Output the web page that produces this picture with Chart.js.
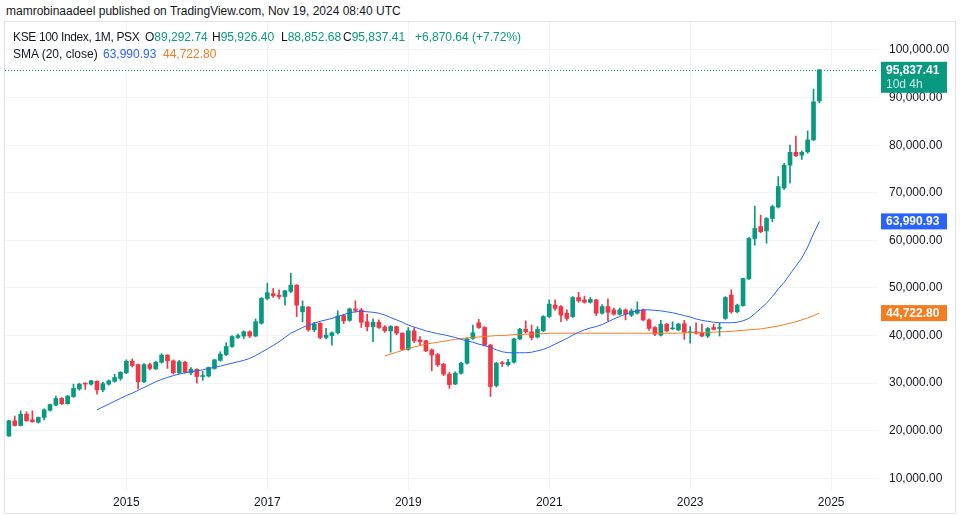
<!DOCTYPE html>
<html>
<head>
<meta charset="utf-8">
<script src="https://cdn.jsdelivr.net/npm/chart.js@4.4.1/dist/chart.umd.min.js"></script>
<style>
  body { margin: 0; width: 960px; height: 515px; background: #fff; position: relative; overflow: hidden;
         font-family: "Liberation Sans", Arial, sans-serif; color: #131722; }
  #byline { position: absolute; left: 6px; top: 3px; font-size: 12px; line-height: 16px; }
  #frame { position: absolute; left: 4px; top: 21px; width: 950px; height: 491px; border: 1px solid #e0e3eb; }
  #chart { position: absolute; left: 0; top: 0; }
  .lg { position: absolute; font-size: 12px; line-height: 16px; white-space: nowrap; }
  .up { color: #089981; }
</style>
</head>
<body>
<div id="byline">mamrobinaadeel published on TradingView.com, Nov 19, 2024 08:40 UTC</div>
<div id="frame"><canvas id="chart" width="950" height="491"></canvas></div>

<div class="lg" style="left:13px; top:29px; letter-spacing:-0.35px">KSE 100 Index, 1M, PSX</div>
<div class="lg" style="left:145px; top:29px">O<span class="up">89,292.74</span></div>
<div class="lg" style="left:212px; top:29px">H<span class="up">95,926.40</span></div>
<div class="lg" style="left:281px; top:29px">L<span class="up">88,852.68</span></div>
<div class="lg" style="left:343px; top:29px">C<span class="up">95,837.41</span></div>
<div class="lg up" style="left:415px; top:29px">+6,870.64 (+7.72%)</div>
<div class="lg" style="left:13px; top:46px">SMA (20, close)</div>
<div class="lg" style="left:103px; top:46px; color:#2962ff">63,990.93</div>
<div class="lg" style="left:163px; top:46px; color:#f57c1f">44,722.80</div>

<script>
// monthly candles, first one is May 2013
const firstYear = 2013;
const firstMonth = 5;

const opens = [
  18900,22100,21100,23500,22300,21800,22800,24300,25400,26800,
  25700,27200,28800,30000,29800,30400,28600,29800,30400,31000,
  32200,34600,33900,30300,33900,33000,34400,35900,34700,32200,
  34400,32200,32900,31400,31500,33100,34800,36000,37700,39600,
  39900,40800,39900,42600,47800,48800,48500,48200,49300,50600,
  45000,46000,41200,42600,39600,40000,40600,44200,43200,45600,
  45400,42900,41900,42800,41800,41000,41900,40500,37100,41000,
  39100,38900,37000,36000,34000,31900,29800,32100,34200,39400,
  42700,41700,38000,29500,34300,33900,34400,39300,41300,40800,
  39700,41000,44000,46400,46100,44700,44000,48000,47500,47000,
  47500,44700,46100,45400,44500,45400,44300,44700,45400,43300,
  41700,40100,42400,41400,41200,42500,40600,40800,40600,39900,
  41700,41500,43600,48500,45000,46300,51900,60400,62900,62000,
  64600,67000,71000,75800,78500,77900,78600,81100,89292.74
];
const highs = [
  22200,23100,24200,24000,24200,22900,24600,25600,27300,27000,
  27400,29800,30000,30100,30600,30500,30200,30700,31900,32400,
  34900,35100,34000,34100,34200,34600,36200,36000,34900,34800,
  34600,33300,33000,32500,33400,35000,36600,38500,40000,40300,
  41000,41000,43500,48000,51000,49900,49600,49500,53100,50700,
  47300,46100,42800,42700,41500,40800,45200,44500,45800,47300,
  45700,44500,43500,43300,42100,42100,42000,40600,41700,41700,
  39800,39000,37200,36300,34200,32300,32400,34400,39500,42200,
  43400,41900,38200,34400,34600,35000,39500,41500,43100,42200,
  41900,44200,47500,47500,46300,45400,48200,49100,48300,48000,
  47600,46500,47700,45800,45800,45600,45600,47100,45600,43500,
  41900,43200,42600,42900,42600,43200,41900,42700,42400,41700,
  42400,42600,48200,49600,46600,52100,60600,67200,65300,64800,
  67400,73400,76200,80000,81900,78800,83000,91800,95926.40
];
const lows = [
  18800,21000,21000,22000,21800,21600,22300,24100,25300,25500,
  25600,27000,28500,28700,29600,27700,28200,29600,30200,30600,
  32000,33400,28800,30100,32800,32900,34200,33100,31900,32000,
  32100,31800,30000,30600,31300,32900,34600,35800,37500,39400,
  39400,39600,39800,42400,47500,48000,47700,46400,49000,44000,
  42900,40900,40800,39300,39300,38000,40300,42500,43000,44900,
  41700,41000,38700,41500,40700,36500,40200,36900,36900,38500,
  38000,36600,32600,33500,31600,28900,29700,31900,34000,39200,
  41500,37800,27200,29200,33500,33600,34200,39100,40500,39100,
  39500,40800,43800,45300,42900,43200,43800,47000,46800,46800,
  44200,44500,43100,44300,44300,43300,44000,44500,43100,41100,
  40000,39900,40800,41300,41000,39200,38400,40300,39700,39600,
  41200,39900,43400,44700,44800,46200,51800,59000,61600,59400,
  63900,66800,70700,72000,77600,77000,78300,81000,88852.68
];
const closes = [
  22100,21100,23500,22100,21900,22800,24400,25500,26800,25700,
  27300,28900,29800,29800,30500,28600,29900,30500,31200,32300,
  34600,33700,30300,33900,33100,34400,35900,34700,32200,34500,
  32300,32900,31400,31600,33300,34900,36100,37700,39800,40000,
  40800,39900,42900,47800,49000,48400,48200,49400,50600,46400,
  46100,41200,42400,39600,40100,40600,44100,43100,45600,45300,
  42800,41900,42800,41700,41000,41900,40500,37100,41000,38900,
  38700,36800,35900,33900,31900,29700,32100,34200,39300,40600,
  41700,38000,29300,34200,34100,34400,39300,41300,40800,39600,
  41300,44000,46600,45700,44300,43600,48000,47300,47000,47600,
  44700,46100,44900,44500,45400,44500,45200,45400,43300,41500,
  40300,42400,41000,41600,42400,40700,40800,40500,39900,41500,
  41300,41600,48000,45000,46400,52000,60400,62500,61800,64600,
  67100,71300,75800,78500,77800,78500,81100,89100,95837.41
];

// SMA (20, close), starts Aug 2014
const smaStart = 15;
const sma20 = [
  24400,25000,25600,26200,26800,27400,27900,28500,29100,29700,
  30300,30800,31200,31600,31900,32200,32400,32600,32800,33100,
  33300,33600,33900,34200,34500,34800,35200,35800,36500,37200,
  37900,38700,39600,40500,41100,41700,42200,42600,43000,43300,
  43600,44000,44400,44800,45000,45100,45000,44900,44700,44300,
  43800,43300,42800,42200,41800,41400,41000,40700,40400,40200,
  39900,39600,39200,38900,38600,38200,37900,37500,37000,36600,
  36400,36400,36400,36400,36500,36800,37100,37600,38200,38800,
  39400,40100,40700,41200,41600,41900,42300,42900,43500,44000,
  44500,44900,45200,45400,45400,45300,45200,45000,44800,44500,
  44200,43900,43500,43200,43000,42800,42700,42700,42700,42800,
  43100,43600,44600,45700,46800,48200,49800,51200,52900,54600,
  56300,58600,61400,63990.93
];

// smoothing line (orange), starts Sep 2018
const smoothStart = 64;
const smoothing = [
  35700,36100,36500,36900,37300,37600,37900,38200,38400,38600,
  38800,39000,39200,39400,39500,39600,39700,39800,39900,40000,
  40000,40100,40200,40200,40300,40300,40400,40400,40500,40500,
  40500,40500,40500,40500,40500,40500,40500,40500,40500,40500,
  40500,40500,40500,40500,40500,40500,40500,40500,40500,40500,
  40500,40600,40600,40600,40600,40700,40700,40800,40800,40900,
  41000,41100,41200,41300,41400,41600,41800,42000,42300,42600,
  42900,43300,43700,44200,44722.80
];

const yearTicks = [2015, 2017, 2019, 2021, 2023, 2025];
const priceTicks = [10000, 20000, 30000, 40000, 50000, 60000, 70000, 80000, 90000, 100000];
const countdown = '10d 4h';

const green = '#089981';
const red = '#f23645';
const blue = '#2962ff';
const orange = '#f57c1f';
const gridColor = '#f0f3fa';

const monthIndex = (year) => (year - firstYear) * 12 - (firstMonth - 1);
const fmt = (v) => v.toLocaleString('en-US', { minimumFractionDigits: 2, maximumFractionDigits: 2 });
const candleColors = closes.map((c, i) => c >= opens[i] ? green : red);

// dotted last price line + the coloured price tags on the right scale
const priceTags = {
  id: 'priceTags',
  beforeDatasetsDraw(chart) {
    const { ctx, chartArea, scales: { y } } = chart;
    const py = Math.round(y.getPixelForValue(closes[closes.length - 1])) + 0.5;
    ctx.save();
    ctx.strokeStyle = green;
    ctx.lineWidth = 1;
    ctx.setLineDash([1, 2]);
    ctx.beginPath();
    ctx.moveTo(chartArea.left, py);
    ctx.lineTo(chartArea.right, py);
    ctx.stroke();
    ctx.restore();
  },
  afterDraw(chart) {
    const { ctx, chartArea, scales: { y } } = chart;
    const x0 = chartArea.right + 3;
    const w = 66;
    ctx.save();
    ctx.font = 'bold 12px "Liberation Sans", Arial, sans-serif';
    ctx.textBaseline = 'middle';
    ctx.textAlign = 'left';

    const tag = (value, color) => {
      const py = y.getPixelForValue(value);
      ctx.fillStyle = color;
      ctx.fillRect(x0, py - 8, w, 16);
      ctx.fillStyle = '#fff';
      ctx.fillText(fmt(value), x0 + 5, py + 0.5);
    };
    tag(sma20[sma20.length - 1], blue);
    tag(smoothing[smoothing.length - 1], orange);

    const last = closes[closes.length - 1];
    const py = y.getPixelForValue(last);
    ctx.fillStyle = green;
    ctx.fillRect(x0, py - 8, w, 31);
    ctx.fillStyle = '#fff';
    ctx.fillText(fmt(last), x0 + 5, py + 0.5);
    ctx.font = '12px "Liberation Sans", Arial, sans-serif';
    ctx.fillStyle = 'rgba(255,255,255,0.8)';
    ctx.fillText(countdown, x0 + 5, py + 15);
    ctx.restore();
  }
};

new Chart(document.getElementById('chart'), {
  type: 'bar',
  data: {
    datasets: [
      {
        type: 'line',
        label: 'SMA',
        data: sma20.map((v, k) => ({ x: smaStart + k, y: v })),
        borderColor: blue,
        borderWidth: 1,
        pointRadius: 0,
        order: 0
      },
      {
        type: 'line',
        label: 'Smoothing',
        data: smoothing.map((v, k) => ({ x: smoothStart + k, y: v })),
        borderColor: orange,
        borderWidth: 1,
        pointRadius: 0,
        order: 0
      },
      {
        label: 'Body',
        data: opens.map((o, i) => ({ x: i, y: [o, closes[i]] })),
        backgroundColor: candleColors,
        barThickness: 4,
        minBarLength: 1,
        grouped: false,
        order: 1
      },
      {
        label: 'Wick',
        data: lows.map((l, i) => ({ x: i, y: [l, highs[i]] })),
        backgroundColor: candleColors,
        barThickness: 1,
        grouped: false,
        order: 2
      }
    ]
  },
  options: {
    responsive: false,
    animation: false,
    events: [],
    layout: { padding: 0 },
    plugins: { legend: { display: false }, tooltip: { enabled: false } },
    scales: {
      x: {
        type: 'linear',
        min: -0.664,
        max: 147.98,
        offset: false,
        grid: { color: gridColor, drawTicks: false, offset: false },
        border: { display: false },
        ticks: {
          padding: 5,
          color: '#131722',
          font: { family: '"Liberation Sans", Arial, sans-serif', size: 12 },
          maxRotation: 0,
          callback: (v) => String(firstYear + (v + firstMonth - 1) / 12)
        },
        afterBuildTicks: (scale) => { scale.ticks = yearTicks.map(yr => ({ value: monthIndex(yr) })); },
        afterFit: (scale) => { scale.height = 23; scale.paddingLeft = 0; scale.paddingRight = 0; }
      },
      y: {
        position: 'right',
        min: 7560,
        max: 105880,
        grid: { color: gridColor, drawTicks: false },
        border: { display: false },
        ticks: {
          padding: 11,
          color: '#131722',
          font: { family: '"Liberation Sans", Arial, sans-serif', size: 12 },
          callback: (v) => fmt(v)
        },
        afterBuildTicks: (scale) => { scale.ticks = priceTicks.map(v => ({ value: v })); },
        afterFit: (scale) => { scale.width = 77; scale.paddingTop = 0; scale.paddingBottom = 0; }
      }
    }
  },
  plugins: [priceTags]
});
</script>
</body>
</html>
